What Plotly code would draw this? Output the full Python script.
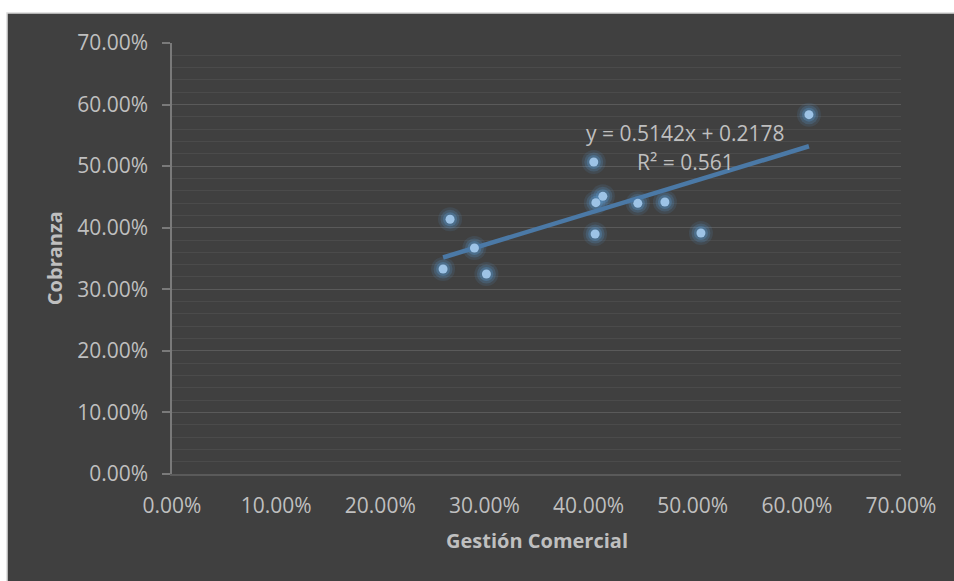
import plotly.graph_objects as go

# Gestión Comercial vs Cobranza (fractions)
gestion = [0.6116, 0.4050, 0.4137, 0.4070, 0.4473, 0.4733, 0.2670, 0.4063, 0.5079, 0.2904, 0.2603, 0.3019]
cobranza = [0.5836, 0.5067, 0.4510, 0.4407, 0.4396, 0.4418, 0.4137, 0.3898, 0.3914, 0.3670, 0.3330, 0.3248]

# Linear trendline coefficients
slope = 0.5142
intercept = 0.2178
r_squared = 0.561

axis_ticks = [0.0, 0.1, 0.2, 0.3, 0.4, 0.5, 0.6, 0.7]

BG = "#404040"
TXT = "#bfbfbf"
FONT = "Open Sans, Liberation Sans, sans-serif"

fig = go.Figure()

# soft glow around the markers
for size, alpha in [(24, 0.12), (19, 0.20), (14, 0.30)]:
    fig.add_trace(go.Scatter(
        x=gestion, y=cobranza, mode="markers",
        marker=dict(size=size, color=f"rgba(91,155,213,{alpha})", line=dict(width=0)),
        hoverinfo="skip", showlegend=False,
    ))

# trendline
x_lo, x_hi = min(gestion), max(gestion)
fig.add_trace(go.Scatter(
    x=[x_lo, x_hi], y=[slope * x_lo + intercept, slope * x_hi + intercept],
    mode="lines", line=dict(color="#4b79a6", width=4.5),
    hoverinfo="skip", showlegend=False,
))

fig.add_trace(go.Scatter(
    x=gestion, y=cobranza, mode="markers",
    marker=dict(size=9, color="#9dc3e6", line=dict(width=0)),
    showlegend=False, name="Cobranza",
))

fig.add_annotation(x=0.4926, y=0.5538, xref="x", yref="y",
                   text=f"y = {slope}x + {intercept}", showarrow=False,
                   font=dict(family=FONT, size=21, color=TXT), xanchor="center")
fig.add_annotation(x=0.4926, y=0.5067, xref="x", yref="y",
                   text=f"R² = {r_squared}", showarrow=False,
                   font=dict(family=FONT, size=21, color=TXT), xanchor="center")

# axis titles
fig.add_annotation(x=0.5, y=-0.155, xref="paper", yref="paper",
                   text="<b>Gestión Comercial</b>", showarrow=False,
                   font=dict(family=FONT, size=20, color=TXT),
                   xanchor="center", yanchor="middle")
fig.add_annotation(x=-0.161, y=0.5, xref="paper", yref="paper",
                   text="<b>Cobranza</b>", showarrow=False, textangle=-90,
                   font=dict(family=FONT, size=20, color=TXT),
                   xanchor="center", yanchor="middle")

# dark chart area with thin light border
fig.add_shape(type="rect", xref="paper", yref="paper",
              x0=-0.2263, x1=1.08, y0=-0.26, y1=1.0696,
              fillcolor=BG, line=dict(color="#d9d9d9", width=1.5), layer="below")

fig.update_xaxes(
    range=[0, 0.7], tickvals=axis_ticks, tickformat=".2%",
    showgrid=False, zeroline=False,
    showline=True, linecolor="#5a5a5a", linewidth=1.5,
    ticks="", tickfont=dict(family=FONT, size=21, color=TXT),
    ticklabelstandoff=12,
)
fig.update_yaxes(
    range=[0, 0.7], tickvals=axis_ticks, tickformat=".2%",
    showgrid=True, gridcolor="#5a5a5a", gridwidth=1.2, zeroline=False,
    minor=dict(dtick=0.02, showgrid=True, gridcolor="#4b4b4b", gridwidth=1.2, ticks=""),
    showline=True, linecolor="#7a7a7a", linewidth=1.5,
    ticks="outside", ticklen=8, tickcolor="#7a7a7a", tickwidth=1.5,
    tickfont=dict(family=FONT, size=21, color=TXT),
    ticklabelstandoff=10,
)

fig.update_layout(
    width=954, height=581,
    margin=dict(l=172, r=53, t=43, b=107),
    paper_bgcolor="white", plot_bgcolor=BG,
    font=dict(family=FONT, color=TXT),
)

fig.write_html("out.html")
